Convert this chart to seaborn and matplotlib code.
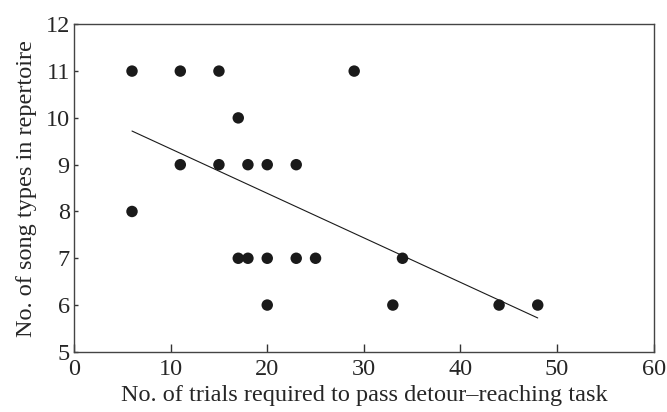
import numpy as np
import pandas as pd
import seaborn as sns
import matplotlib.pyplot as plt

# trials to pass detour-reaching task vs song repertoire size
trials = [6, 11, 15, 29, 17, 11, 15, 18, 20, 23, 6, 17, 18, 20, 23, 25, 34, 20, 33, 44, 48]
songs = [11, 11, 11, 11, 10, 9, 9, 9, 9, 9, 8, 7, 7, 7, 7, 7, 7, 6, 6, 6, 6]

xticks = [0, 10, 20, 30, 40, 50, 60]
yticks = [5, 6, 7, 8, 9, 10, 11, 12]

df = pd.DataFrame({'trials': trials, 'songs': songs})

sns.set_style("ticks")
plt.rcParams['font.family'] = ['Liberation Serif', 'DejaVu Serif']

fig = plt.figure(figsize=(6.67, 4.12), dpi=100)
ax = fig.add_axes([0.111, 0.146, 0.869, 0.795])

sns.regplot(x='trials', y='songs', data=df, ci=None, ax=ax,
            scatter_kws={'s': 68, 'color': '#1a1a1a', 'edgecolor': 'none', 'alpha': 1},
            line_kws={'color': '#1a1a1a', 'linewidth': 0.8})

ax.set_xlim(0, 60)
ax.set_ylim(5, 12)
ax.set_xticks(xticks)
ax.set_yticks(yticks)
ax.tick_params(axis='x', direction='in', length=6, width=1, labelsize=17.5, pad=5, color='#333333')
ax.tick_params(axis='y', direction='in', length=3, width=1, labelsize=17.5, pad=3, color='#333333')
for s in ax.spines.values():
    s.set_visible(True)
    s.set_color('#444444')
    s.set_linewidth(1)

ax.set_xlabel('No. of trials required to pass detour\u2013reaching task', fontsize=17.5, labelpad=4)
ax.set_ylabel('No. of song types in repertoire', fontsize=17.5, labelpad=6)

plt.savefig('out.png', dpi=100)
